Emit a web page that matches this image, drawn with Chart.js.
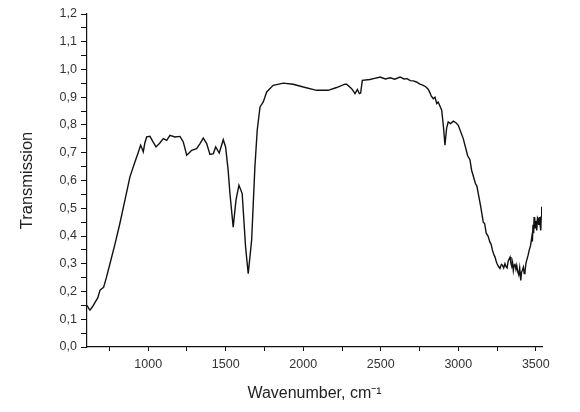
<!DOCTYPE html>
<html>
<head>
<meta charset="utf-8">
<script src="https://cdn.jsdelivr.net/npm/chart.js@4/dist/chart.umd.min.js"></script>
<style>
  html, body { margin: 0; padding: 0; background: #fff; }
  #wrap { width: 580px; height: 412px; }
</style>
</head>
<body>
<div id="wrap"><canvas id="ir"></canvas></div>
<script>
// spectrum
const wavenumber = [
  605, 615, 624, 640, 656, 675, 689, 700, 712, 730, 753, 785, 817, 850, 882, 914, 935, 951, 960, 968,
  978, 990, 1011, 1030, 1050, 1075, 1097, 1119, 1140, 1172, 1205, 1226, 1248, 1265, 1280, 1312, 1334, 1355, 1377, 1398,
  1420, 1435, 1458, 1484, 1499, 1515, 1527, 1548, 1566, 1585, 1606, 1628, 1645, 1667, 1688, 1703, 1721, 1742, 1764, 1806,
  1871, 1935, 2000, 2086, 2161, 2215, 2269, 2280, 2312, 2334, 2349, 2362, 2370, 2381, 2430, 2460, 2484, 2495, 2530, 2560,
  2590, 2624, 2650, 2670, 2690, 2710, 2730, 2753, 2770, 2790, 2807, 2818, 2825, 2839, 2850, 2861, 2870, 2880, 2893, 2905,
  2914, 2925, 2935, 2950, 2968, 2985, 3000, 3032, 3060, 3075, 3086, 3110, 3120, 3129, 3145, 3161, 3170, 3180, 3192, 3204,
  3212, 3220, 3228, 3237, 3244, 3250, 3260, 3269, 3278, 3285, 3293, 3301, 3308, 3315, 3322, 3334, 3340, 3345, 3350, 3355,
  3360, 3365, 3372, 3377, 3384, 3390, 3396, 3403, 3408, 3412, 3420, 3425, 3430, 3436, 3441, 3450, 3458, 3466, 3474, 3478,
  3482, 3486, 3489, 3493, 3497, 3502, 3506, 3511, 3515, 3519, 3523, 3527, 3532, 3535, 3538
];
const transmission = [
  0.150, 0.140, 0.133, 0.145, 0.160, 0.178, 0.205, 0.210, 0.215, 0.250, 0.300, 0.370, 0.445, 0.530, 0.613, 0.667, 0.700, 0.727, 0.715, 0.703,
  0.735, 0.757, 0.759, 0.740, 0.721, 0.735, 0.751, 0.745, 0.763, 0.757, 0.759, 0.739, 0.691, 0.700, 0.709, 0.715, 0.733, 0.753, 0.733, 0.694,
  0.697, 0.721, 0.699, 0.747, 0.721, 0.640, 0.553, 0.432, 0.529, 0.583, 0.553, 0.360, 0.264, 0.385, 0.649, 0.781, 0.865, 0.883, 0.919, 0.943,
  0.951, 0.947, 0.937, 0.925, 0.925, 0.935, 0.947, 0.947, 0.931, 0.913, 0.928, 0.913, 0.915, 0.961, 0.964, 0.968, 0.971, 0.973, 0.966, 0.970,
  0.965, 0.973, 0.966, 0.967, 0.960, 0.959, 0.955, 0.947, 0.944, 0.938, 0.928, 0.915, 0.905, 0.895, 0.900, 0.877, 0.883, 0.870, 0.853, 0.790,
  0.727, 0.790, 0.811, 0.805, 0.814, 0.808, 0.799, 0.751, 0.690, 0.675, 0.637, 0.590, 0.580, 0.553, 0.505, 0.450, 0.445, 0.410, 0.400, 0.378,
  0.370, 0.350, 0.335, 0.324, 0.310, 0.300, 0.290, 0.283, 0.298, 0.295, 0.285, 0.300, 0.290, 0.285, 0.310, 0.324, 0.300, 0.290, 0.305, 0.276,
  0.295, 0.300, 0.280, 0.294, 0.270, 0.260, 0.285, 0.240, 0.270, 0.275, 0.288, 0.265, 0.270, 0.300, 0.312, 0.330, 0.350, 0.365, 0.396, 0.380,
  0.440, 0.410, 0.468, 0.430, 0.430, 0.455, 0.420, 0.465, 0.460, 0.440, 0.468, 0.445, 0.420, 0.470, 0.505
];

const xTicks = [750, 1000, 1250, 1500, 1750, 2000, 2250, 2500, 2750, 3000, 3250, 3500];
const yTicks = [0, 0.05, 0.1, 0.15, 0.2, 0.25, 0.3, 0.35, 0.4, 0.45, 0.5, 0.55, 0.6,
                0.65, 0.7, 0.75, 0.8, 0.85, 0.9, 0.95, 1.0, 1.05, 1.1, 1.15, 1.2];

const tickFont = { family: 'Liberation Sans', size: 12.5 };

new Chart(document.getElementById('ir'), {
  type: 'line',
  data: {
    datasets: [{
      data: wavenumber.map((w, i) => ({ x: w, y: transmission[i] })),
      borderColor: '#111',
      borderWidth: 1.4,
      pointRadius: 0,
      tension: 0,
      fill: false
    }]
  },
  options: {
    responsive: true,
    maintainAspectRatio: false,
    animation: false,
    events: [],
    layout: { padding: { top: 14, right: 38, left: 0, bottom: 0 } },
    plugins: { legend: { display: false }, tooltip: { enabled: false } },
    scales: {
      x: {
        type: 'linear',
        min: 605,
        max: 3540,
        afterBuildTicks: s => { s.ticks = xTicks.map(v => ({ value: v })); },
        afterFit: s => { s.height = 65; },
        border: { display: true, color: '#111', width: 1.2 },
        grid: { drawOnChartArea: false, drawTicks: true, tickLength: 4, color: '#111' },
        ticks: {
          autoSkip: false,
          maxRotation: 0,
          padding: 6,
          color: '#333',
          font: tickFont,
          callback: v => (v % 500 === 0 ? String(v) : '')
        },
        title: {
          display: true,
          text: 'Wavenumber, cm\u207B\u00B9',
          color: '#222',
          font: { family: 'Liberation Sans', size: 16 },
          padding: { top: 0, bottom: 9 }
        }
      },
      y: {
        min: 0,
        max: 1.2,
        afterBuildTicks: s => { s.ticks = yTicks.map(v => ({ value: v })); },
        afterFit: s => { s.width = 87; },
        border: { display: true, color: '#111', width: 1.2 },
        grid: { drawOnChartArea: false, drawTicks: true, tickLength: 6, color: '#111' },
        ticks: {
          autoSkip: false,
          padding: 4,
          color: '#333',
          font: tickFont,
          callback: v => (Math.round(v * 100) % 10 === 0 ? v.toFixed(1).replace('.', ',') : '')
        },
        title: {
          display: true,
          text: 'Transmission',
          color: '#222',
          font: { family: 'Liberation Sans', size: 16.5 },
          padding: { top: 18, bottom: 0 }
        }
      }
    }
  }
});
</script>
</body>
</html>
